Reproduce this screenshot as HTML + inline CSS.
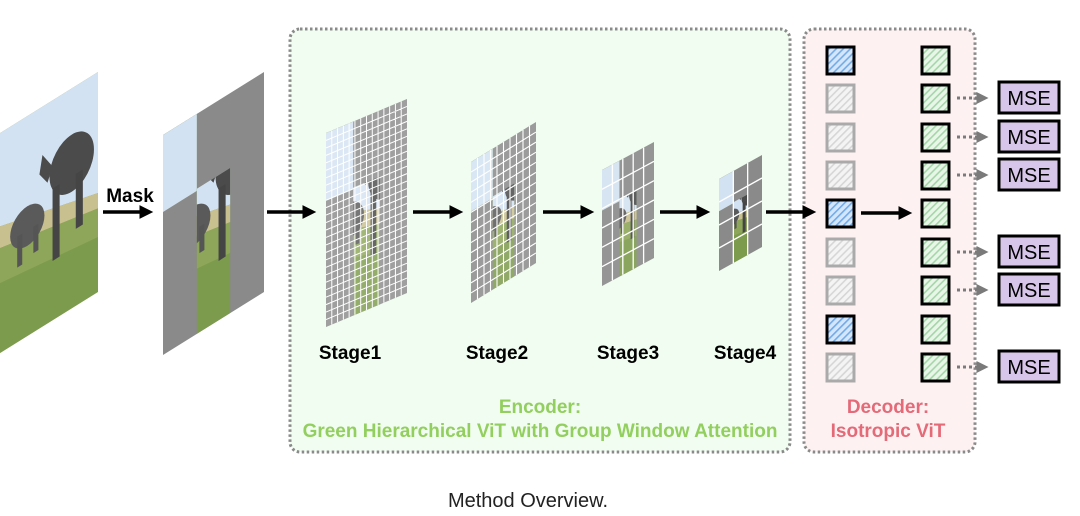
<!DOCTYPE html>
<html><head><meta charset="utf-8"><style>
html,body{margin:0;padding:0;background:#fff;width:1080px;height:516px;overflow:hidden}
svg{display:block}
.lbl{font-family:"Liberation Sans",sans-serif;font-weight:bold}
</style></head><body>
<svg width="1080" height="516" viewBox="0 0 1080 516" xmlns="http://www.w3.org/2000/svg">
<defs>
<pattern id="hb" width="5" height="5" patternUnits="userSpaceOnUse" patternTransform="rotate(45)"><rect width="5" height="5" fill="#d3e6fb"/><rect width="1.6" height="5" fill="#74abe6"/></pattern>
<pattern id="hg" width="5" height="5" patternUnits="userSpaceOnUse" patternTransform="rotate(45)"><rect width="5" height="5" fill="#f4f4f4"/><rect width="1.6" height="5" fill="#d6d6d6"/></pattern>
<pattern id="hgr" width="5" height="5" patternUnits="userSpaceOnUse" patternTransform="rotate(45)"><rect width="5" height="5" fill="#e8f6e8"/><rect width="1.6" height="5" fill="#a6d5aa"/></pattern>
<marker id="ah" markerWidth="4" markerHeight="4" refX="2.5" refY="2" orient="auto" markerUnits="strokeWidth"><path d="M0,0 L4,2 L0,4 Z" fill="#000"/></marker>
<marker id="ahg" markerWidth="4" markerHeight="4" refX="2.5" refY="2" orient="auto" markerUnits="strokeWidth"><path d="M0,0 L4,2 L0,4 Z" fill="#7a7a7a"/></marker>
<g id="photo">
<rect x="0" y="0" width="1" height="1" fill="#7d9b4c"/>
<polygon points="0,0 1,0 1,0.55 0,0.42" fill="#d3e2f2"/>
<polygon points="0,0.42 1,0.55 1,0.62 0,0.52" fill="#c9c08f"/>
<polygon points="0,0.52 1,0.62 1,0.75 0,0.68" fill="#8ea65a"/>
<ellipse cx="0.74" cy="0.34" rx="0.22" ry="0.13" fill="#4b4b4b"/>
<polygon points="0.55,0.3 0.45,0.22 0.42,0.3 0.5,0.36" fill="#4b4b4b"/>
<rect x="0.55" y="0.4" width="0.07" height="0.33" fill="#454545"/>
<rect x="0.78" y="0.4" width="0.07" height="0.25" fill="#454545"/>
<ellipse cx="0.3" cy="0.5" rx="0.17" ry="0.09" fill="#5a5a5a"/>
<rect x="0.2" y="0.52" width="0.05" height="0.14" fill="#555"/>
<rect x="0.36" y="0.52" width="0.05" height="0.12" fill="#555"/>
</g>
<g id="masked">
<rect x="0" y="0" width="1" height="1" fill="#8a8a8a"/>
<svg x="0" y="0" width="0.335" height="0.35" viewBox="0 0 0.335 0.35" preserveAspectRatio="none"><use href="#photo"/></svg>
<svg x="0.335" y="0.34" width="0.33" height="0.66" viewBox="0.335 0.34 0.33 0.66" preserveAspectRatio="none"><use href="#photo"/></svg>
</g>
</defs>

<rect x="290" y="29" width="500" height="423" rx="10" fill="#f1fdf1" stroke="#8a8a8a" stroke-width="3" stroke-dasharray="2.5 2.5"/>
<rect x="804" y="29" width="171" height="423" rx="10" fill="#fdf1f2" stroke="#8a8a8a" stroke-width="3" stroke-dasharray="2.5 2.5"/>

<g transform="matrix(101,-63,0,220,-3,135)"><use href="#photo"/></g>
<g transform="matrix(101,-63,0,220,163,135)"><use href="#masked"/></g>

<g transform="matrix(81,-34,0,194,326,133)"><use href="#masked"/><rect width="1" height="1" fill="#fff" opacity="0.18"/>
<path vector-effect="non-scaling-stroke" stroke="#fff" stroke-width="1" fill="none" d="M.0714 0V1M.1429 0V1M.2143 0V1M.2857 0V1M.3571 0V1M.4286 0V1M.5 0V1M.5714 0V1M.6429 0V1M.7143 0V1M.7857 0V1M.8571 0V1M.9286 0V1M0 .0385H1M0 .0769H1M0 .1154H1M0 .1538H1M0 .1923H1M0 .2308H1M0 .2692H1M0 .3077H1M0 .3462H1M0 .3846H1M0 .4231H1M0 .4615H1M0 .5H1M0 .5385H1M0 .5769H1M0 .6154H1M0 .6538H1M0 .6923H1M0 .7308H1M0 .7692H1M0 .8077H1M0 .8462H1M0 .8846H1M0 .9231H1M0 .9615H1"/></g>
<g transform="matrix(65,-40,0,141,471,162)"><use href="#masked"/><rect width="1" height="1" fill="#fff" opacity="0.15"/>
<path vector-effect="non-scaling-stroke" stroke="#fff" stroke-width="1.1" fill="none" d="M.1 0V1M.2 0V1M.3 0V1M.4 0V1M.5 0V1M.6 0V1M.7 0V1M.8 0V1M.9 0V1M0 .0714H1M0 .1429H1M0 .2143H1M0 .2857H1M0 .3571H1M0 .4286H1M0 .5H1M0 .5714H1M0 .6429H1M0 .7143H1M0 .7857H1M0 .8571H1M0 .9286H1"/></g>
<g transform="matrix(52,-28,0,116,602,170)"><use href="#masked"/><rect width="1" height="1" fill="#fff" opacity="0.1"/>
<path vector-effect="non-scaling-stroke" stroke="#fff" stroke-width="1.3" fill="none" d="M.2 0V1M.4 0V1M.6 0V1M.8 0V1M0 .1667H1M0 .3333H1M0 .5H1M0 .6667H1M0 .8333H1"/></g>
<g transform="matrix(43,-24,0,92,719,179)"><use href="#masked"/>
<path vector-effect="non-scaling-stroke" stroke="#fff" stroke-width="1.3" fill="none" d="M.3333 0V1M.6667 0V1M0 .25H1M0 .5H1M0 .75H1"/></g>

<g stroke="#000" stroke-width="3.5" marker-end="url(#ah)">
<line x1="103" y1="212" x2="148" y2="212"/>
<line x1="267" y1="212" x2="311" y2="212"/>
<line x1="413" y1="212" x2="458" y2="212"/>
<line x1="543" y1="212" x2="589" y2="212"/>
<line x1="660" y1="212" x2="705" y2="212"/>
<line x1="766" y1="212" x2="811" y2="212"/>
<line x1="861" y1="213" x2="907" y2="213"/>
</g>
<text x="130" y="202" text-anchor="middle" class="lbl" font-size="19">Mask</text>

<g stroke-width="3">
<rect x="827" y="47" width="27" height="27" fill="url(#hb)" stroke="#000"/>
<rect x="827" y="85" width="27" height="27" fill="url(#hg)" stroke="#aaa"/>
<rect x="827" y="124" width="27" height="27" fill="url(#hg)" stroke="#aaa"/>
<rect x="827" y="162" width="27" height="27" fill="url(#hg)" stroke="#aaa"/>
<rect x="827" y="200" width="27" height="27" fill="url(#hb)" stroke="#000"/>
<rect x="827" y="239" width="27" height="27" fill="url(#hg)" stroke="#aaa"/>
<rect x="827" y="277" width="27" height="27" fill="url(#hg)" stroke="#aaa"/>
<rect x="827" y="316" width="27" height="27" fill="url(#hb)" stroke="#000"/>
<rect x="827" y="354" width="27" height="27" fill="url(#hg)" stroke="#aaa"/>
</g>
<g stroke-width="3" stroke="#000" fill="url(#hgr)">
<rect x="922" y="47" width="27" height="27"/>
<rect x="922" y="85" width="27" height="27"/>
<rect x="922" y="124" width="27" height="27"/>
<rect x="922" y="162" width="27" height="27"/>
<rect x="922" y="200" width="27" height="27"/>
<rect x="922" y="239" width="27" height="27"/>
<rect x="922" y="277" width="27" height="27"/>
<rect x="922" y="316" width="27" height="27"/>
<rect x="922" y="354" width="27" height="27"/>
</g>

<g stroke="#7a7a7a" stroke-width="3" stroke-dasharray="3 3" marker-end="url(#ahg)">
<line x1="957" y1="98" x2="984" y2="98"/>
<line x1="957" y1="137" x2="984" y2="137"/>
<line x1="957" y1="175" x2="984" y2="175"/>
<line x1="957" y1="252" x2="984" y2="252"/>
<line x1="957" y1="290" x2="984" y2="290"/>
<line x1="957" y1="367" x2="984" y2="367"/>
</g>
<g stroke="#000" stroke-width="3" fill="#d8c6ea">
<rect x="999" y="82" width="60" height="31"/>
<rect x="999" y="121" width="60" height="31"/>
<rect x="999" y="159" width="60" height="31"/>
<rect x="999" y="236" width="60" height="31"/>
<rect x="999" y="274" width="60" height="31"/>
<rect x="999" y="351" width="60" height="31"/>
</g>
<g font-family="Liberation Sans,sans-serif" font-size="20" text-anchor="middle" fill="#000">
<text x="1029" y="105">MSE</text>
<text x="1029" y="144">MSE</text>
<text x="1029" y="182">MSE</text>
<text x="1029" y="259">MSE</text>
<text x="1029" y="297">MSE</text>
<text x="1029" y="374">MSE</text>
</g>

<g class="lbl" font-size="19" text-anchor="middle" fill="#000">
<text x="350" y="359">Stage1</text>
<text x="497" y="359">Stage2</text>
<text x="628" y="359">Stage3</text>
<text x="745" y="359">Stage4</text>
</g>
<g class="lbl" font-size="19" text-anchor="middle" fill="#92cf5e">
<text x="540" y="413">Encoder:</text>
<text x="540" y="437">Green Hierarchical ViT with Group Window Attention</text>
</g>
<g class="lbl" font-size="19" text-anchor="middle" fill="#e46a78">
<text x="888" y="413">Decoder:</text>
<text x="888" y="437">Isotropic ViT</text>
</g>
<text x="528" y="507" text-anchor="middle" font-family="Liberation Sans,sans-serif" font-size="20" fill="#222">Method Overview.</text>
</svg>
</body></html>
